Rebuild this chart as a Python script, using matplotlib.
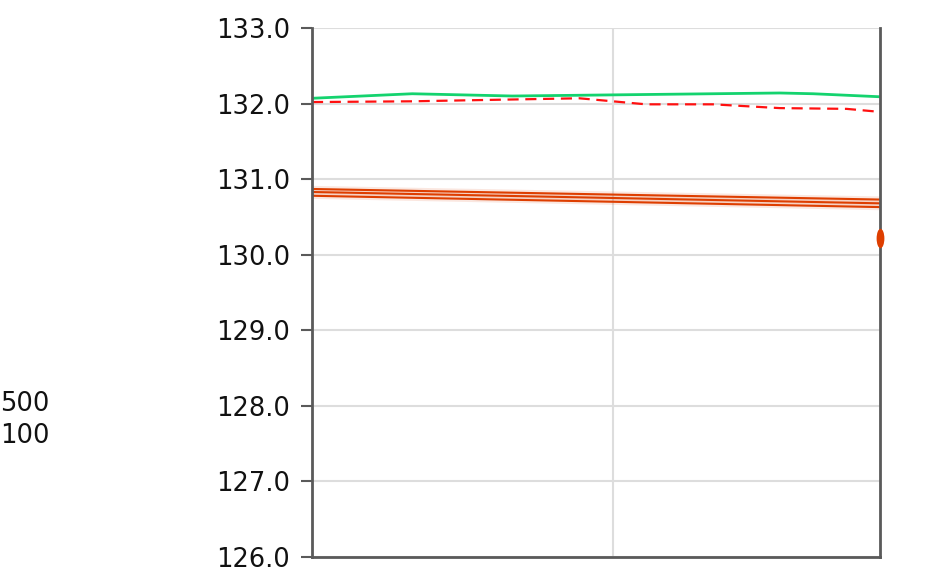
import matplotlib
matplotlib.use("Agg")
import matplotlib.pyplot as plt
from matplotlib.markers import MarkerStyle
from matplotlib.transforms import Affine2D

plt.rcParams["font.family"] = ["DejaVu Sans"]

# data (x = sample index, y = price)
green_x = [0, 3, 6, 10, 14, 15, 17]
green_y = [132.07, 132.13, 132.10, 132.12, 132.14, 132.13, 132.09]

red_x = [0, 3, 8, 10, 12, 14, 16, 17]
red_y = [132.02, 132.03, 132.07, 131.99, 131.99, 131.94, 131.93, 131.89]

band_x = [0, 17]
band_top = [130.87, 130.73]
band_mid = [130.83, 130.68]
band_low = [130.78, 130.63]

dot_x = [17]
dot_y = [130.22]

y_ticks = [126, 127, 128, 129, 130, 131, 132, 133]
side_labels = ["500", "100"]

ORANGE = "#de3e00"
GRID = "#dddddd"
SPINE = "#5a5a5a"
FS = 18.5

fig = plt.figure(figsize=(9.49, 5.76), dpi=100)
ax = fig.add_axes([312 / 949, 19 / 576, 568 / 949, 529 / 576])

ax.set_xlim(0, 17)
ax.set_ylim(126, 133)
ax.set_yticks(y_ticks)
ax.set_yticklabels([f"{v:.1f}" for v in y_ticks])
ax.set_xticks([9])
ax.tick_params(axis="x", length=0, labelbottom=False)
ax.tick_params(axis="y", length=8, width=1.5, color=SPINE, pad=8,
               labelsize=FS, labelcolor="#111111")
ax.grid(True, color=GRID, linewidth=1.5)
ax.set_axisbelow(True)

for side in ["left", "right", "bottom"]:
    ax.spines[side].set_color(SPINE)
    ax.spines[side].set_linewidth(2)
ax.spines["top"].set_visible(False)

# orange bands with soft halo
for ys in (band_top, band_mid, band_low):
    ax.plot(band_x, ys, color=ORANGE, alpha=0.12, linewidth=4.5, solid_capstyle="butt")
for ys in (band_top, band_mid, band_low):
    ax.plot(band_x, ys, color=ORANGE, linewidth=1.5, solid_capstyle="butt")

ax.plot(green_x, green_y, color="#14d36e", linewidth=2)
ax.plot(red_x, red_y, color="#ff1010", linewidth=1.6, dashes=(5, 3))

dot = MarkerStyle("o", transform=Affine2D().scale(0.4, 1.0))
ax.plot(dot_x, dot_y, linestyle="none", marker=dot, markersize=14,
        color=ORANGE, markeredgewidth=0, clip_on=False, zorder=5)

fig.text(0.0, 1 - 404 / 576, side_labels[0], fontsize=FS, color="#111111",
         ha="left", va="center")
fig.text(0.0, 1 - 436 / 576, side_labels[1], fontsize=FS, color="#111111",
         ha="left", va="center")

fig.savefig("out.png", dpi=100)
